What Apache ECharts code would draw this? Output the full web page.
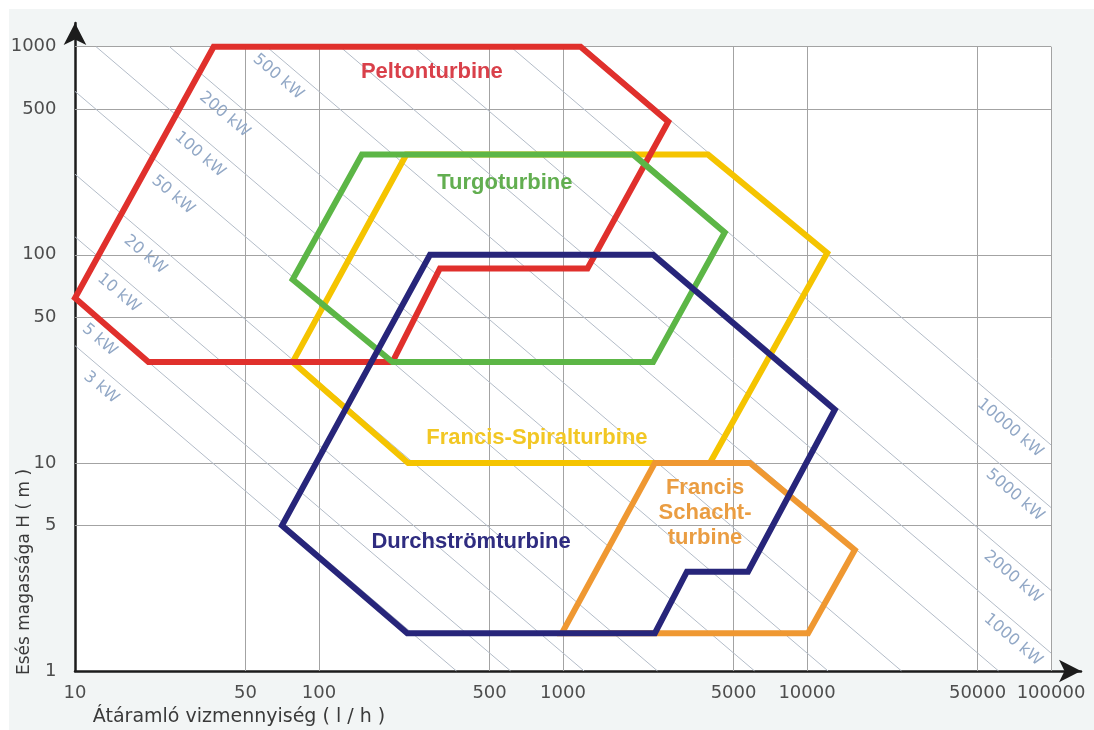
<!DOCTYPE html>
<html>
<head>
<meta charset="utf-8">
<script src="https://cdn.jsdelivr.net/npm/echarts@6/dist/echarts.min.js"></script>
<style>
  html, body { margin: 0; padding: 0; background: #ffffff; }
  #chart { width: 1094px; height: 730px; }
</style>
</head>
<body>
<div id="chart"></div>
<script>
// Axis tick values: water flow (l/h) and head (m), both logarithmic
const flowTicks = [10, 50, 100, 500, 1000, 5000, 10000, 50000, 100000];
const headTicks = [1, 5, 10, 50, 100, 500, 1000];

// Lines of constant power (kW); flow * head per kW along each line
const powerLines = [3, 5, 10, 20, 50, 100, 200, 500, 1000, 2000, 5000, 10000];
const flowHeadPerKw = 122;

// Where each power caption sits: [kW, flow, head]
const powerCaptionSpots = [
  [500, 68, 717], [200, 41, 471], [100, 32.5, 303], [50, 25.2, 194],
  [20, 19.4, 100], [10, 15.1, 65.6], [5, 12.6, 39], [3, 12.8, 23],
  [10000, 67900, 14.7], [5000, 71100, 7.0], [2000, 69800, 2.83], [1000, 69800, 1.41]
];

// Application ranges of the turbine types, outline corners as [flow, head]
const peltonOutline = [[10, 62], [20, 30.5], [200, 30.5], [313, 86], [1260, 86], [2700, 436], [1180, 1000], [37, 1000]];
const turgoOutline = [[150, 303], [1940, 303], [4600, 128], [2340, 30.5], [200, 30.5], [78, 76]];
const spiralOutline = [[78, 30.5], [228, 303], [3930, 303], [12100, 102], [4000, 10], [232, 10]];
const crossflowOutline = [[285, 100], [2340, 100], [13000, 18], [5730, 3], [3220, 3], [2380, 1.52], [230, 1.52], [70.5, 5]];
const shaftOutline = [[990, 1.52], [2380, 10], [5840, 10], [15700, 3.82], [10100, 1.52]];

// Turbine names and where their names are written: [flow, head]
const turbineNames = ['Francis-Spiralturbine', 'Peltonturbine', 'Turgoturbine', 'Francis\nSchacht-\nturbine', 'Durchströmturbine'];
const turbineNameSpots = [[782, 13.2], [290, 758], [578, 222], [3820, 5.75], [420, 4.17]];

const turbines = [
  { outline: spiralOutline, color: '#f5c400', text: '#f2c724' },
  { outline: peltonOutline, color: '#e0302c', text: '#d9404a' },
  { outline: turgoOutline, color: '#5cb646', text: '#62ae50' },
  { outline: shaftOutline, color: '#ef9832', text: '#ea9d42' },
  { outline: crossflowOutline, color: '#27257a', text: '#2f2c80' }
];

const flowMin = flowTicks[0], flowMax = flowTicks[flowTicks.length - 1];
const headMin = headTicks[0], headMax = headTicks[headTicks.length - 1];

// Grid lines as segments spanning the plotting box
const gridSegments = [];
headTicks.slice(1).forEach(h => gridSegments.push({ coords: [[flowMin, h], [flowMax, h]] }));
flowTicks.slice(1).forEach(q => gridSegments.push({ coords: [[q, headMin], [q, headMax]] }));

// Constant-power lines clipped to the plotting box
const powerSegments = powerLines.map(kw => {
  const k = kw * flowHeadPerKw;
  const q1 = Math.max(flowMin, k / headMax);
  const q2 = Math.min(flowMax, k / headMin);
  return { coords: [[q1, k / q1], [q2, k / q2]] };
});

const chart = echarts.init(document.getElementById('chart'), null, { renderer: 'canvas' });

const outlineSeries = turbines.map(t => ({
  type: 'custom',
  coordinateSystem: 'cartesian2d',
  silent: true,
  clip: false,
  z: 5,
  data: [t.outline[0]],
  renderItem: (params, api) => ({
    type: 'polygon',
    shape: { points: t.outline.map(p => api.coord(p)) },
    style: { fill: 'none', stroke: t.color, lineWidth: 6, lineJoin: 'miter', miterLimit: 10 }
  })
}));

// invisible anchor points that only carry text
const hiddenPoint = { color: 'rgba(0,0,0,0)', opacity: 1 };
const tickFont = { fontFamily: 'DejaVu Sans', fontSize: 18, color: '#4d4d4d', opacity: 1 };

const option = {
  animation: false,
  backgroundColor: '#ffffff',
  graphic: [
    { type: 'rect', z: -10, shape: { x: 9, y: 9, width: 1085, height: 721 }, style: { fill: '#f2f5f5' } },
    {
      type: 'text', z: 10, x: 25, y: 572, rotation: Math.PI / 2,
      style: { text: 'Esés magassága H ( m )', font: '17px "DejaVu Sans"', fill: '#3a3a3a', textAlign: 'center', textVerticalAlign: 'middle' }
    },
    {
      type: 'text', z: 10, x: 239, y: 717,
      style: { text: 'Átáramló vizmennyiség ( l / h )', font: '19px "DejaVu Sans"', fill: '#3a3a3a', textAlign: 'center', textVerticalAlign: 'middle' }
    }
  ],
  grid: { left: 75, right: 13, top: 23, bottom: 59, containLabel: false },
  xAxis: {
    type: 'log', logBase: 10, min: flowMin, max: 132700,
    axisLine: { show: true, onZero: false, symbol: ['none', 'arrow'], symbolSize: [17, 22], lineStyle: { color: '#1c1c1c', width: 2.5 } },
    axisTick: { show: false }, axisLabel: { show: false }, splitLine: { show: false }
  },
  yAxis: {
    type: 'log', logBase: 10, min: headMin, max: 1300,
    axisLine: { show: true, onZero: false, symbol: ['none', 'arrow'], symbolSize: [17, 22], lineStyle: { color: '#1c1c1c', width: 2.5 } },
    axisTick: { show: false }, axisLabel: { show: false }, splitLine: { show: false }
  },
  series: [
    {
      // white plotting box
      type: 'custom', coordinateSystem: 'cartesian2d', silent: true, clip: false, z: 0,
      data: [[flowMin, headMin]],
      renderItem: (params, api) => {
        const a = api.coord([flowMin, headMax]);
        const b = api.coord([flowMax, headMin]);
        return { type: 'rect', shape: { x: a[0], y: a[1], width: b[0] - a[0], height: b[1] - a[1] }, style: { fill: '#ffffff' } };
      }
    },
    {
      type: 'lines', coordinateSystem: 'cartesian2d', silent: true, z: 1,
      data: gridSegments,
      lineStyle: { color: '#a3a3a3', width: 1, opacity: 1, curveness: 0 }
    },
    {
      type: 'lines', coordinateSystem: 'cartesian2d', silent: true, z: 1,
      data: powerSegments,
      lineStyle: { color: '#b3bcc8', width: 1, opacity: 1, curveness: 0 }
    },
    {
      type: 'scatter', silent: true, clip: false, z: 2, symbolSize: 1,
      itemStyle: hiddenPoint,
      data: powerCaptionSpots.map(([kw, q, h]) => ({ value: [q, h], name: kw + ' kW' })),
      label: {
        show: true, position: 'inside', formatter: '{b}', rotate: -40.5, opacity: 1,
        fontFamily: 'DejaVu Sans', fontSize: 16, color: '#92a8c6'
      }
    },
    ...outlineSeries,
    {
      type: 'scatter', silent: true, clip: false, z: 8, symbolSize: 1,
      itemStyle: hiddenPoint,
      data: turbineNames.map((name, i) => ({
        value: turbineNameSpots[i], name,
        label: { color: turbines[i].text }
      })),
      label: {
        show: true, position: 'inside', formatter: '{b}', align: 'center', opacity: 1,
        fontFamily: 'Liberation Sans', fontWeight: 'bold', fontSize: 22, lineHeight: 25
      }
    },
    {
      // flow tick labels under the axis
      type: 'scatter', silent: true, clip: false, z: 8, symbolSize: 1,
      itemStyle: hiddenPoint,
      data: flowTicks.map(q => [q, headMin]),
      label: Object.assign({ show: true, position: 'bottom', distance: 13, formatter: p => String(p.value[0]) }, tickFont)
    },
    {
      // head tick labels left of the axis
      type: 'scatter', silent: true, clip: false, z: 8, symbolSize: 1,
      itemStyle: hiddenPoint,
      data: headTicks.map(h => [flowMin, h]),
      label: Object.assign({ show: true, position: 'left', distance: 18, formatter: p => String(p.value[1]) }, tickFont)
    }
  ]
};

chart.setOption(option);
</script>
</body>
</html>
